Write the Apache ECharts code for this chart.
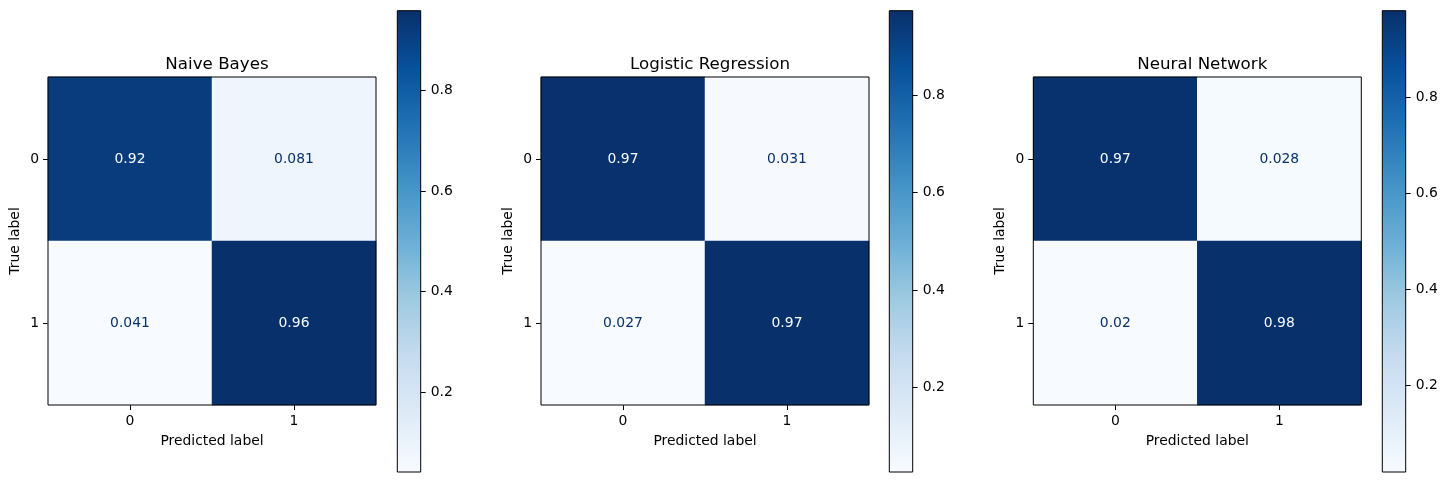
<!DOCTYPE html>
<html>
<head>
<meta charset="utf-8">
<script src="https://cdn.jsdelivr.net/npm/echarts@6/dist/echarts.min.js"></script>
<style>
html, body { margin: 0; background: #fff; }
#chart { width: 1446px; height: 482px; }
</style>
</head>
<body>
<div id="chart"></div>
<script>
// confusion matrices, rows = true label, cols = predicted label
var titles = ['Naive Bayes', 'Logistic Regression', 'Neural Network']
var classes = ['0', '1']
var nbMatrix = [[0.919, 0.081], [0.041, 0.959]]
var lrMatrix = [[0.969, 0.031], [0.027, 0.973]]
var nnMatrix = [[0.972, 0.028], [0.020, 0.980]]
var cbTicks = [0.2, 0.4, 0.6, 0.8]

var matrices = [nbMatrix, lrMatrix, nnMatrix]
// matplotlib Blues
var blues = ['#f7fbff', '#deebf7', '#c6dbef', '#9ecae1', '#6baed6', '#4292c6', '#2171b5', '#08519c', '#08306b']
var font = 'DejaVu Sans'
var fs = 13.9

var heatLeft = [48, 541, 1033.3]
var cbLeft = [397.3, 889.3, 1382.3]

var fmt = function (v) {
    return String(Number(v.toPrecision(2)))
}

var grid = [], xAxis = [], yAxis = [], series = [], visualMap = [], title = []

matrices.forEach(function (m, i) {
    var flat = [m[0][0], m[0][1], m[1][0], m[1][1]]
    var vmin = Math.min.apply(null, flat)
    var vmax = Math.max.apply(null, flat)
    var thresh = (vmin + vmax) / 2

    var data = []
    m.forEach(function (row, r) {
        row.forEach(function (v, c) {
            data.push({
                value: [c, r, v],
                label: { color: v >= thresh ? blues[0] : blues[8] }
            })
        })
    })

    title.push({
        text: titles[i],
        left: heatLeft[i] + 164,
        top: 51,
        textAlign: 'center',
        textStyle: { fontFamily: font, fontSize: 16.7, fontWeight: 'normal', color: '#000' }
    })

    // heatmap grid
    grid.push({
        left: heatLeft[i], top: 77, width: 328, height: 328,
        show: true, borderColor: '#000', borderWidth: 1, backgroundColor: 'transparent', z: 5
    })
    xAxis.push({
        type: 'category', gridIndex: 2 * i, data: classes,
        name: 'Predicted label', nameLocation: 'middle', nameGap: 29,
        nameTextStyle: { fontFamily: font, fontSize: fs, color: '#000' },
        axisLine: { show: false },
        axisTick: { show: true, alignWithLabel: true, length: 5, lineStyle: { color: '#000' } },
        axisLabel: { fontFamily: font, fontSize: fs, color: '#000', margin: 9 },
        splitLine: { show: false }
    })
    yAxis.push({
        type: 'category', gridIndex: 2 * i, data: classes, inverse: true,
        name: 'True label', nameLocation: 'middle', nameGap: 26,
        nameTextStyle: { fontFamily: font, fontSize: fs, color: '#000' },
        axisLine: { show: false },
        axisTick: { show: true, alignWithLabel: true, length: 5, lineStyle: { color: '#000' } },
        axisLabel: { fontFamily: font, fontSize: fs, color: '#000', margin: 9 },
        splitLine: { show: false }
    })
    series.push({
        type: 'heatmap', xAxisIndex: 2 * i, yAxisIndex: 2 * i,
        data: data,
        itemStyle: { borderWidth: 0 },
        label: {
            show: true, fontFamily: font, fontSize: fs,
            formatter: function (p) { return fmt(p.value[2]) }
        },
        emphasis: { disabled: true }
    })
    visualMap.push({
        type: 'continuous', show: false, seriesIndex: series.length - 1, dimension: 2,
        min: vmin, max: vmax, inRange: { color: blues }
    })

    // colorbar grid
    grid.push({
        left: cbLeft[i], top: 10.7, width: 23.4, height: 461.3,
        show: true, borderColor: '#000', borderWidth: 1, backgroundColor: 'transparent', z: 5
    })
    xAxis.push({
        type: 'category', gridIndex: 2 * i + 1, data: [''],
        axisLine: { show: false }, axisTick: { show: false }, axisLabel: { show: false }
    })
    yAxis.push({
        type: 'value', gridIndex: 2 * i + 1, position: 'right',
        min: vmin, max: vmax,
        axisLine: { show: false },
        splitLine: { show: false },
        axisTick: { show: true, length: 5, customValues: cbTicks, lineStyle: { color: '#000' } },
        axisLabel: {
            fontFamily: font, fontSize: fs, color: '#000', margin: 10,
            customValues: cbTicks,
            formatter: function (v) { return v.toFixed(1) }
        }
    })
    series.push({
        type: 'custom', xAxisIndex: 2 * i + 1, yAxisIndex: 2 * i + 1,
        data: [[0, vmin, vmax]],
        silent: true,
        renderItem: function (params, api) {
            var lo = api.coord([api.value(0), api.value(1)])
            var hi = api.coord([api.value(0), api.value(2)])
            var w = api.size([1, 0])[0]
            return {
                type: 'rect',
                shape: { x: lo[0] - w / 2, y: hi[1], width: w, height: lo[1] - hi[1] },
                style: {
                    fill: new echarts.graphic.LinearGradient(0, 1, 0, 0, blues.map(function (c, k) {
                        return { offset: k / (blues.length - 1), color: c }
                    }))
                }
            }
        }
    })
})

var myChart = echarts.init(document.getElementById('chart'))
myChart.setOption({
    animation: false,
    backgroundColor: '#fff',
    title: title,
    grid: grid,
    xAxis: xAxis,
    yAxis: yAxis,
    visualMap: visualMap,
    series: series
})
</script>
</body>
</html>
